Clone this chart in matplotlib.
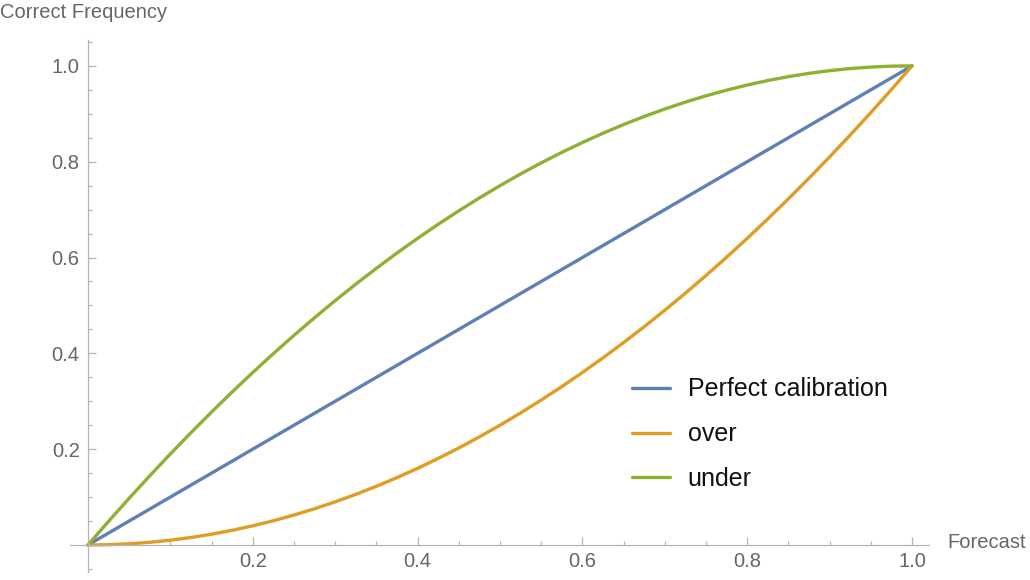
import numpy as np
import matplotlib
matplotlib.use("Agg")
import matplotlib.pyplot as plt

plt.rcParams['font.family'] = ['Liberation Sans', 'DejaVu Sans']

# forecast values and the curves
forecast = [0.0, 0.025, 0.05, 0.075, 0.1, 0.125, 0.15, 0.175, 0.2, 0.225, 0.25,
            0.275, 0.3, 0.325, 0.35, 0.375, 0.4, 0.425, 0.45, 0.475, 0.5,
            0.525, 0.55, 0.575, 0.6, 0.625, 0.65, 0.675, 0.7, 0.725, 0.75,
            0.775, 0.8, 0.825, 0.85, 0.875, 0.9, 0.925, 0.95, 0.975, 1.0]
perfect = forecast
over = [0.0, 0.0006, 0.0025, 0.0056, 0.01, 0.0156, 0.0225, 0.0306, 0.04, 0.0506, 0.0625,
        0.0756, 0.09, 0.1056, 0.1225, 0.1406, 0.16, 0.1806, 0.2025, 0.2256, 0.25,
        0.2756, 0.3025, 0.3306, 0.36, 0.3906, 0.4225, 0.4556, 0.49, 0.5256, 0.5625,
        0.6006, 0.64, 0.6806, 0.7225, 0.7656, 0.81, 0.8556, 0.9025, 0.9506, 1.0]
under = [0.0, 0.0494, 0.0975, 0.1444, 0.19, 0.2344, 0.2775, 0.3194, 0.36, 0.3994, 0.4375,
         0.4744, 0.51, 0.5444, 0.5775, 0.6094, 0.64, 0.6694, 0.6975, 0.7244, 0.75,
         0.7744, 0.7975, 0.8194, 0.84, 0.8594, 0.8775, 0.8944, 0.91, 0.9244, 0.9375,
         0.9494, 0.96, 0.9694, 0.9775, 0.9844, 0.99, 0.9944, 0.9975, 0.9994, 1.0]
series_names = ["Perfect calibration", "over", "under"]
colors = ["#5E81B5", "#E19C24", "#8FB032"]
major_ticks = [0.2, 0.4, 0.6, 0.8, 1.0]
tick_labels = ["0.2", "0.4", "0.6", "0.8", "1.0"]

W, H = 1030, 580
fig = plt.figure(figsize=(W / 100, H / 100), dpi=100)
ax = fig.add_axes([70 / W, 8 / H, (929 - 70) / W, (572 - 40) / H])

for ys, name, c in zip([perfect, over, under], series_names, colors):
    ax.plot(forecast, ys, color=c, lw=2.4, label=name, solid_capstyle='round')

ax.set_xlim(-0.0218, 1.0206)
ax.set_ylim(-0.0564, 1.054)

axis_col = "#b4b4b4"
text_col = "#666666"
for s in ['top', 'right']:
    ax.spines[s].set_visible(False)
for s in ['left', 'bottom']:
    ax.spines[s].set_position(('data', 0))
    ax.spines[s].set_color(axis_col)
    ax.spines[s].set_linewidth(0.9)

ax.set_xticks(major_ticks)
ax.set_xticklabels(tick_labels)
ax.set_yticks(major_ticks)
ax.set_yticklabels(tick_labels)
ax.set_xticks(np.arange(0.05, 1.01, 0.05), minor=True)
ax.set_yticks(np.arange(-0.05, 1.06, 0.05), minor=True)
ax.tick_params(which='both', direction='in', color=axis_col, width=0.9)
ax.tick_params(which='major', length=5.8, labelsize=14.5, labelcolor=text_col)
ax.tick_params(which='minor', length=3)
ax.tick_params(axis='x', which='major', pad=5)
ax.tick_params(axis='y', which='major', pad=6)

fig.text(0, 1 - 13 / H, "Correct Frequency", fontsize=14.5, color=text_col,
         ha='left', va='center')
fig.text(947 / W, 1 - 543 / H, "Forecast", fontsize=14.5, color=text_col,
         ha='left', va='center')

leg = ax.legend(loc='upper left', bbox_to_anchor=(539 / 859, 1 - (355 - 40) / 532),
                frameon=False, fontsize=18, handlelength=1.55, handletextpad=0.7,
                labelspacing=0.83, borderpad=0.4)
for t in leg.get_texts():
    t.set_color("#111111")

fig.savefig("out.png", dpi=100)
